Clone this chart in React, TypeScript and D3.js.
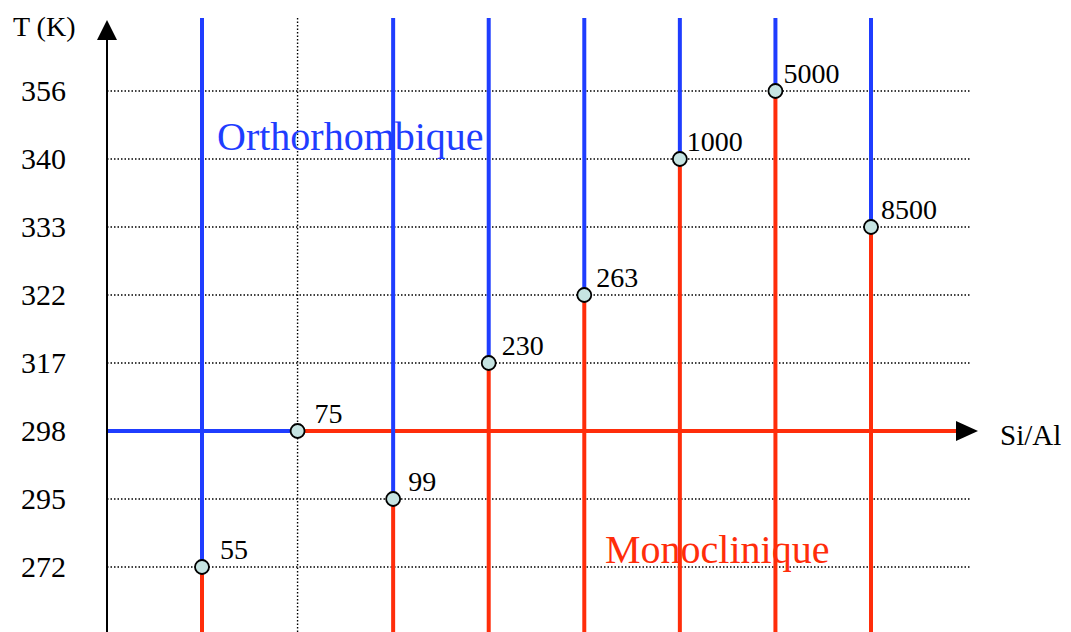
import React from "react";
import * as d3 from "d3";

const tempTicks = ["272", "295", "298", "317", "322", "333", "340", "356"];
const ratios = ["55", "75", "99", "230", "263", "1000", "5000", "8500"];
const transitionT = ["272", "298", "295", "317", "322", "340", "356", "333"];

const labelDx = [18, 17, 15, 13, 12, 7, 8, 10];

const W = 1071;
const H = 632;
const BLUE = "#1f3dff";
const RED = "#ff2d0a";
const FONT = "'Liberation Serif', 'Times New Roman', serif";

export default function App() {
  const y = d3.scalePoint<string>().domain(tempTicks).range([567, 91]);
  const x = d3.scalePoint<string>().domain(ratios).range([202, 871]);
  const axisX = 107;
  const axisY = y("298")!;
  const top = 18;
  const xEnd = 958;
  const dots = "1.5 2";

  return (
    <svg width={W} height={H} style={{ position: "absolute", left: 0, top: 0, background: "#fff" }}>
      {tempTicks.filter((t) => t !== "298").map((t) => (
        <line key={"g" + t} x1={axisX} x2={970} y1={y(t)} y2={y(t)} stroke="#000" strokeWidth={1.4} strokeDasharray={dots} />
      ))}
      <line x1={x("75")} x2={x("75")} y1={top} y2={H} stroke="#000" strokeWidth={1.4} strokeDasharray={dots} />

      {tempTicks.map((t) => (
        <text key={"t" + t} x={66} y={y(t)! + 10} textAnchor="end" fontFamily={FONT} fontSize={30} fill="#000">{t}</text>
      ))}
      <text x={13} y={36} fontFamily={FONT} fontSize={28} fill="#000">T (K)</text>

      <line x1={axisX} x2={x("75")} y1={axisY} y2={axisY} stroke={BLUE} strokeWidth={4} />
      <line x1={x("75")} x2={xEnd} y1={axisY} y2={axisY} stroke={RED} strokeWidth={4} />
      <path d={`M${xEnd - 2},${axisY - 10} L${978},${axisY} L${xEnd - 2},${axisY + 10} Z`} fill="#000" />
      <text x={1000} y={axisY + 14} fontFamily={FONT} fontSize={29} fill="#000">Si/Al</text>

      {ratios.map((r, i) => {
        if (r === "75") return null;
        const px = x(r)!;
        const py = y(transitionT[i])!;
        return (
          <g key={"v" + r}>
            <line x1={px} x2={px} y1={top} y2={py} stroke={BLUE} strokeWidth={4} />
            <line x1={px} x2={px} y1={py} y2={H} stroke={RED} strokeWidth={4} />
          </g>
        );
      })}

      <line x1={axisX} x2={axisX} y1={38} y2={H} stroke="#000" strokeWidth={2} />
      <path d={`M${axisX - 10},${40} L${axisX},${20} L${axisX + 10},${40} Z`} fill="#000" />

      {ratios.map((r, i) => {
        const px = x(r)!;
        const py = y(transitionT[i])!;
        return (
          <g key={"p" + r}>
            <circle cx={px} cy={py} r={7} fill="#c6e4e2" stroke="#000" strokeWidth={1.8} />
            <text x={px + labelDx[i]} y={py - 8} fontFamily={FONT} fontSize={28} fill="#000">{r}</text>
          </g>
        );
      })}

      <text x={217} y={150} fontFamily={FONT} fontSize={40} fill={BLUE}>Orthorhombique</text>
      <text x={605} y={563} fontFamily={FONT} fontSize={40} fill={RED}>Monoclinique</text>
    </svg>
  );
}
